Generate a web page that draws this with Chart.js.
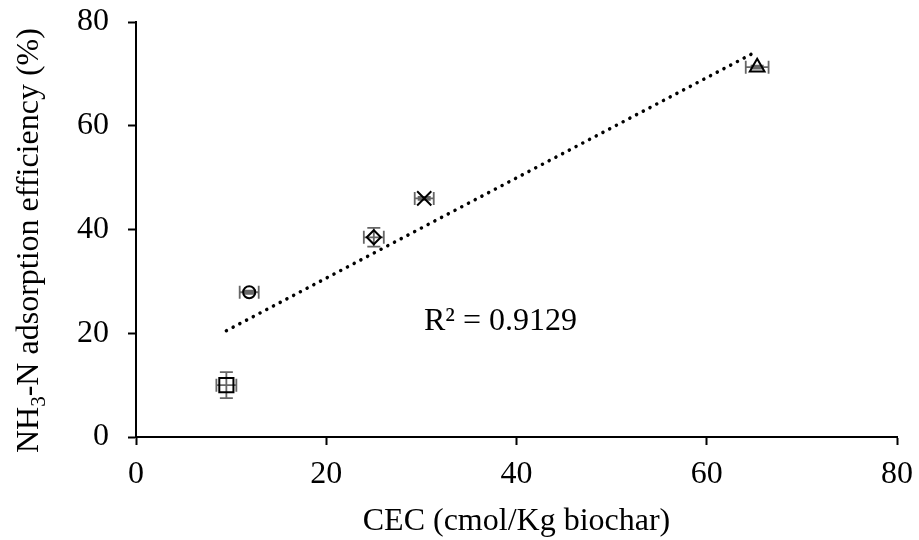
<!DOCTYPE html>
<html>
<head>
<meta charset="utf-8">
<script src="https://cdn.jsdelivr.net/npm/chart.js@4"></script>
<style>
  html, body { margin: 0; padding: 0; background: #fff; }
  #wrap { width: 919px; height: 540px; }
</style>
</head>
<body>
<div id="wrap"><canvas id="cecChart" width="919" height="540"></canvas></div>
<script>
// Biochar samples: CEC vs NH3-N adsorption efficiency
const cecValues = [9.5, 11.9, 25.0, 30.3, 65.3];
const adsorptionValues = [10.0, 27.9, 38.5, 46.0, 71.3];
const cecErrors = [1.05, 1.0, 1.05, 1.0, 1.2];
const adsorptionErrors = [2.5, 0.3, 1.8, 0.3, 0.3];
const markerStyles = ['rect', 'circle', 'rectRot', 'crossRot', 'triangle'];
const markerRadii = [10, 6, 7, 10, 8.5];
const xTicks = [0, 20, 40, 60, 80];
const yTicks = [0, 20, 40, 60, 80];
const r2Label = 'R\u00B2 = 0.9129';

const FONT = '"Liberation Serif", "Times New Roman", serif';

// least squares trendline over the data range
function linearFit(xs, ys) {
    const n = xs.length;
    const mx = xs.reduce((a, b) => a + b, 0) / n;
    const my = ys.reduce((a, b) => a + b, 0) / n;
    let sxy = 0, sxx = 0;
    for (let i = 0; i < n; i++) {
        sxy += (xs[i] - mx) * (ys[i] - my);
        sxx += (xs[i] - mx) * (xs[i] - mx);
    }
    const slope = sxy / sxx;
    return { slope: slope, intercept: my - slope * mx };
}
const fit = linearFit(cecValues, adsorptionValues);
const xMin = Math.min(...cecValues), xMax = Math.max(...cecValues);
const trendPoints = [
    { x: xMin, y: fit.slope * xMin + fit.intercept },
    { x: xMax, y: fit.slope * xMax + fit.intercept }
];

/* error bars are drawn under the markers, gray with caps */
const errorBarPlugin = {
    id: 'errorBars',
    beforeDatasetsDraw(chart) {
        const { ctx, scales: { x, y } } = chart;
        const cap = 6.5;
        ctx.save();
        ctx.strokeStyle = '#666666';
        ctx.lineWidth = 1.8;
        cecValues.forEach((cx, i) => {
            const px = x.getPixelForValue(cx);
            const py = y.getPixelForValue(adsorptionValues[i]);
            const xl = x.getPixelForValue(cx - cecErrors[i]);
            const xr = x.getPixelForValue(cx + cecErrors[i]);
            const yt = y.getPixelForValue(adsorptionValues[i] + adsorptionErrors[i]);
            const yb = y.getPixelForValue(adsorptionValues[i] - adsorptionErrors[i]);
            ctx.beginPath();
            ctx.moveTo(xl, py); ctx.lineTo(xr, py);
            ctx.moveTo(xl, py - cap); ctx.lineTo(xl, py + cap);
            ctx.moveTo(xr, py - cap); ctx.lineTo(xr, py + cap);
            ctx.moveTo(px, yt); ctx.lineTo(px, yb);
            ctx.moveTo(px - cap, yt); ctx.lineTo(px + cap, yt);
            ctx.moveTo(px - cap, yb); ctx.lineTo(px + cap, yb);
            ctx.stroke();
        });
        ctx.restore();
    }
};

/* axis titles (with subscript) and R² note */
const labelsPlugin = {
    id: 'labels',
    afterDraw(chart) {
        const { ctx, chartArea } = chart;
        ctx.save();
        ctx.fillStyle = '#000';
        ctx.textBaseline = 'alphabetic';

        // x title
        ctx.font = '32px ' + FONT;
        ctx.textAlign = 'center';
        ctx.fillText('CEC (cmol/Kg biochar)', (chartArea.left + chartArea.right) / 2, 530);

        // y title, rotated, with subscript 3
        const parts = [['NH', 32, 0], ['3', 21, 7], ['-N adsorption efficiency (%)', 32, 0]];
        ctx.translate(38, 453);
        ctx.rotate(-Math.PI / 2);
        ctx.textAlign = 'left';
        let cx = 0;
        parts.forEach(p => {
            ctx.font = p[1] + 'px ' + FONT;
            ctx.fillText(p[0], cx, p[2]);
            cx += ctx.measureText(p[0]).width;
        });
        ctx.setTransform(1, 0, 0, 1, 0, 0);

        // R² annotation
        ctx.font = '32px ' + FONT;
        ctx.textAlign = 'left';
        ctx.fillText(r2Label, 424, 330);
        ctx.restore();
    }
};

// drop the label overflow padding so the plot box is set by layout.padding
function noOverflow(scale) {
    scale.paddingTop = 0;
    scale.paddingBottom = 0;
    scale.paddingLeft = 0;
    scale.paddingRight = 0;
}

const axisCommon = {
    type: 'linear',
    min: 0,
    max: 80,
    grid: {
        display: true,
        drawOnChartArea: false,
        drawTicks: true,
        tickLength: 8,
        tickWidth: 2,
        tickColor: '#000'
    },
    border: { display: true, color: '#000', width: 2 }
};

new Chart(document.getElementById('cecChart').getContext('2d'), {
    type: 'scatter',
    data: {
        datasets: [
            {
                label: 'Samples',
                data: cecValues.map((v, i) => ({ x: v, y: adsorptionValues[i] })),
                pointStyle: markerStyles,
                pointRadius: markerRadii,
                pointHoverRadius: markerRadii,
                pointBorderColor: '#000',
                pointBackgroundColor: 'rgba(0,0,0,0)',
                pointBorderWidth: 2,
                showLine: false,
                order: 1
            },
            {
                label: 'Linear fit',
                data: trendPoints,
                showLine: true,
                pointRadius: 0,
                borderColor: '#000',
                borderWidth: 3.5,
                borderDash: [0.1, 7.5],
                borderCapStyle: 'round',
                fill: false,
                order: 2
            }
        ]
    },
    options: {
        responsive: false,
        animation: false,
        devicePixelRatio: 1,
        layout: { padding: { top: 22, right: 22, left: 0, bottom: 0 } },
        plugins: {
            legend: { display: false },
            tooltip: { enabled: false }
        },
        scales: {
            x: Object.assign({}, axisCommon, {
                position: 'bottom',
                afterBuildTicks(scale) { scale.ticks = xTicks.map(v => ({ value: v })); },
                afterFit(scale) { scale.height = 103; noOverflow(scale); },
                ticks: { color: '#000', font: { family: FONT, size: 32 }, padding: 10 }
            }),
            y: Object.assign({}, axisCommon, {
                position: 'left',
                afterBuildTicks(scale) { scale.ticks = yTicks.map(v => ({ value: v })); },
                afterFit(scale) { scale.width = 136; noOverflow(scale); },
                ticks: { color: '#000', font: { family: FONT, size: 32 }, padding: 19 }
            })
        }
    },
    plugins: [errorBarPlugin, labelsPlugin]
});
</script>
</body>
</html>
